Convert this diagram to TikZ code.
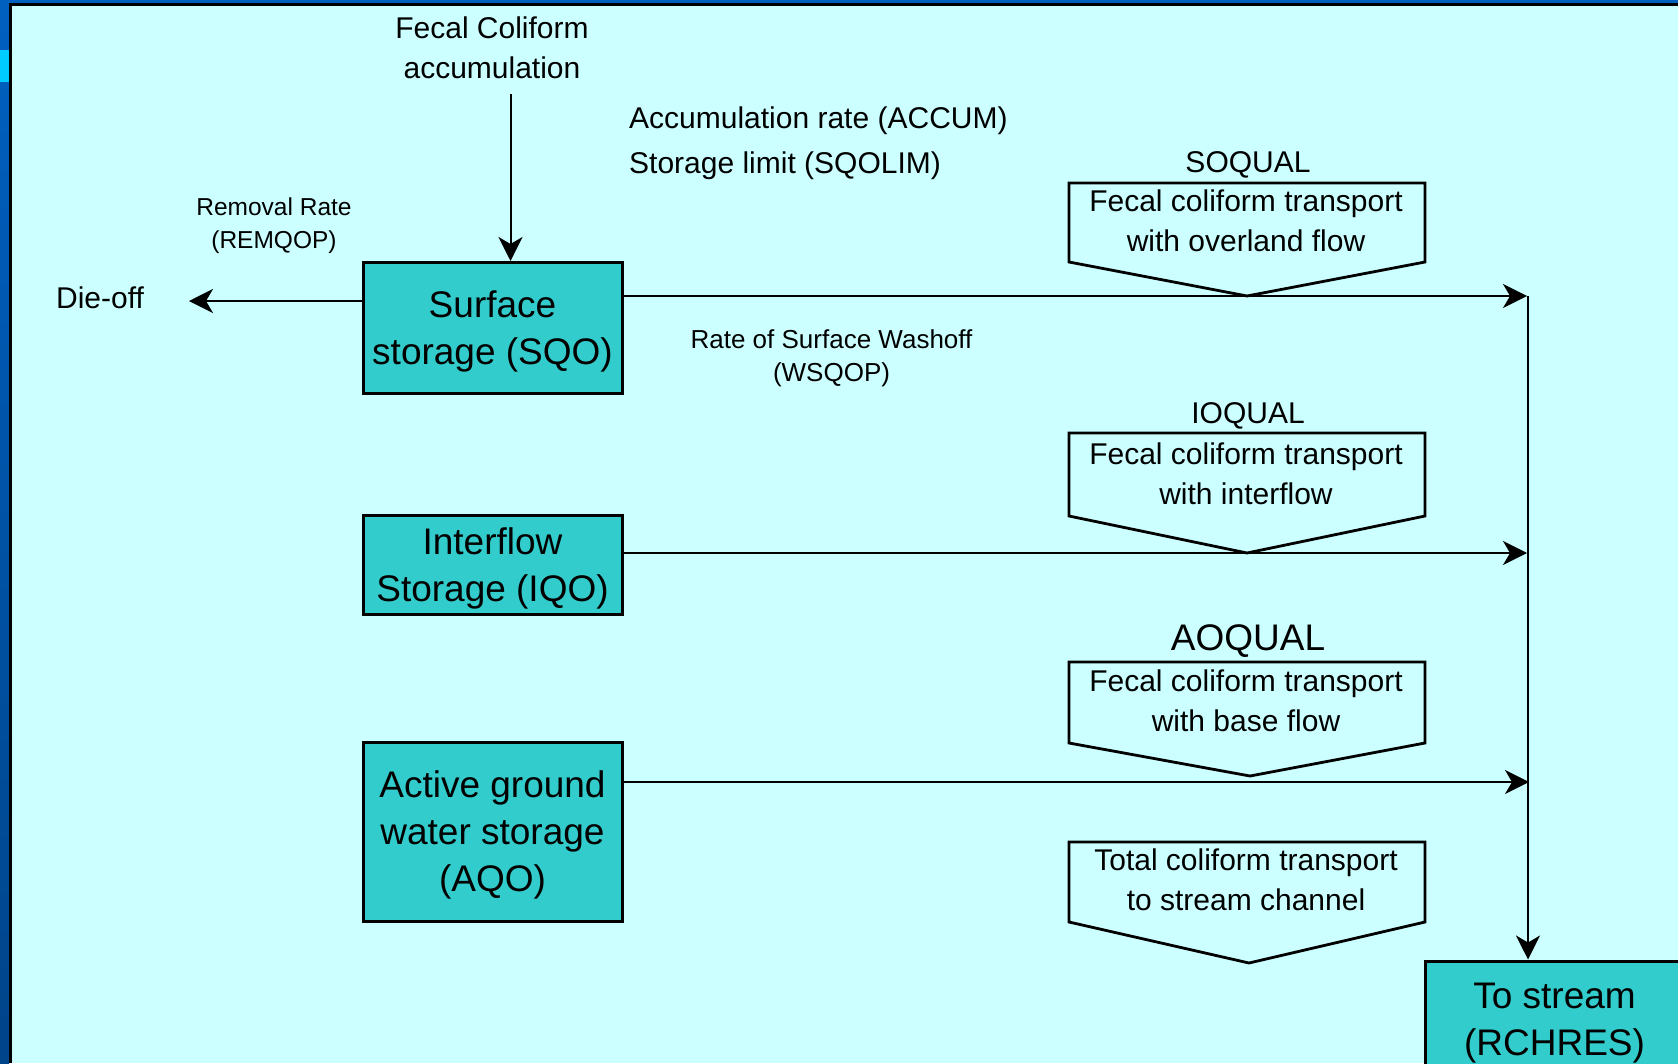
\documentclass[tikz,border=0pt]{standalone}
\usepackage{fontspec}
\setmainfont{Liberation Sans}
\usetikzlibrary{arrows.meta}
\definecolor{bgc}{HTML}{CCFFFF}
\definecolor{boxc}{HTML}{33CCCC}
\definecolor{stripc}{HTML}{0060C0}
\definecolor{stripd}{HTML}{00448A}
\definecolor{stripl}{HTML}{00CCFF}
\newcommand{\lowerstrut}{\rule{0pt}{33pt}}
\begin{document}
\begin{tikzpicture}[x=1pt,y=-1pt,
  conn/.style={line width=2pt},
  tip/.style={-{Stealth[length=24pt,width=24pt,inset=7pt]}},
  store/.style={draw, line width=3pt, fill=boxc, minimum width=259pt, inner sep=0pt, align=center, font=\fontsize{37}{47}\selectfont},
  lbl/.style={inner sep=0pt, align=center, font=\fontsize{30}{40}\selectfont},
  small/.style={inner sep=0pt, align=center, font=\fontsize{24.5}{33}\selectfont},
  ptext/.style={inner sep=0pt, align=center, font=\fontsize{30}{39.5}\selectfont},
  penta/.style={draw, line width=2.8pt, line join=miter},
]
\clip (0,0) rectangle (1678,1063);
\fill[bgc] (0,0) rectangle (1678,1063);
\shade[top color=stripc, bottom color=stripd] (0,0) rectangle (9,1063);
\fill[stripl] (0,50) rectangle (9,82);
\fill[stripc] (0,0) rectangle (1678,3);
\fill[black] (9,3) rectangle (1678,6);
\fill[black] (9,3) rectangle (12,1063);

% storages
\node[store, minimum height=131pt] (sqo) at (492.5,328) {\lowerstrut Surface\\storage (SQO)};
\node[store, minimum height=98.5pt] (iqo) at (492.5,565) {\lowerstrut Interflow\\Storage (IQO)};
\node[store, minimum height=179pt] (aqo) at (492.5,832) {\lowerstrut Active ground\\water storage\\(AQO)};
\node[store, minimum height=116pt] (rch) at (1554.5,1019) {\lowerstrut To stream\\(RCHRES)};

% labels
\node[lbl] (acc) at (492,48) {Fecal Coliform\\accumulation};
\node[lbl, align=left, anchor=west, font=\fontsize{30}{45}\selectfont] (par) at (629,143.5) {Accumulation rate (ACCUM)\\Storage limit (SQOLIM)};
\node[small] (rem) at (274,226) {Removal Rate\\(REMQOP)};
\node[lbl] (die) at (100,298) {Die-off};
\node[small, font=\fontsize{26}{33}\selectfont] (wsh) at (831.5,358.5) {Rate of Surface Washoff\\(WSQOP)};

% pentagons
\node[lbl] (soq) at (1248,165) {SOQUAL};
\node[lbl] (ioq) at (1248,416) {IOQUAL};
\node[lbl, font=\fontsize{37}{44}\selectfont] (aoq) at (1248,641) {AOQUAL};
\draw[penta] (1069,183) -- (1425,183) -- (1425,262) -- (1247,296) -- (1069,262) -- cycle;
\draw[penta] (1069,433) -- (1425,433) -- (1425,516) -- (1247,553) -- (1069,516) -- cycle;
\draw[penta] (1069,662) -- (1425,662) -- (1425,743) -- (1250,776) -- (1069,743) -- cycle;
\draw[penta] (1069,842) -- (1425,842) -- (1425,922) -- (1249,963) -- (1069,922) -- cycle;
\node[ptext] (p1) at (1246,221) {Fecal coliform transport\\with overland flow};
\node[ptext] (p2) at (1246,474) {Fecal coliform transport\\with interflow};
\node[ptext] (p3) at (1246,701) {Fecal coliform transport\\with base flow};
\node[ptext] (p4) at (1246,880) {Total coliform transport\\to stream channel};

% connectors
\coordinate (atop) at (510.5,94);
\draw[conn,tip] (atop) -- (atop |- sqo.north);
\coordinate (dtip) at (189,301);
\draw[conn,tip] (sqo.west |- dtip) -- (dtip);
\coordinate (j1) at (1527,296);
\coordinate (j2) at (1527,553);
\coordinate (j3) at (1529,782);
\draw[conn,tip] (sqo.east |- j1) -- (j1);
\draw[conn,tip] (iqo.east |- j2) -- (j2);
\draw[conn,tip] (aqo.east |- j3) -- (j3);
\coordinate (vtop) at (1528,296);
\draw[conn,tip] (vtop) -- (vtop |- rch.north);
\end{tikzpicture}
\end{document}
